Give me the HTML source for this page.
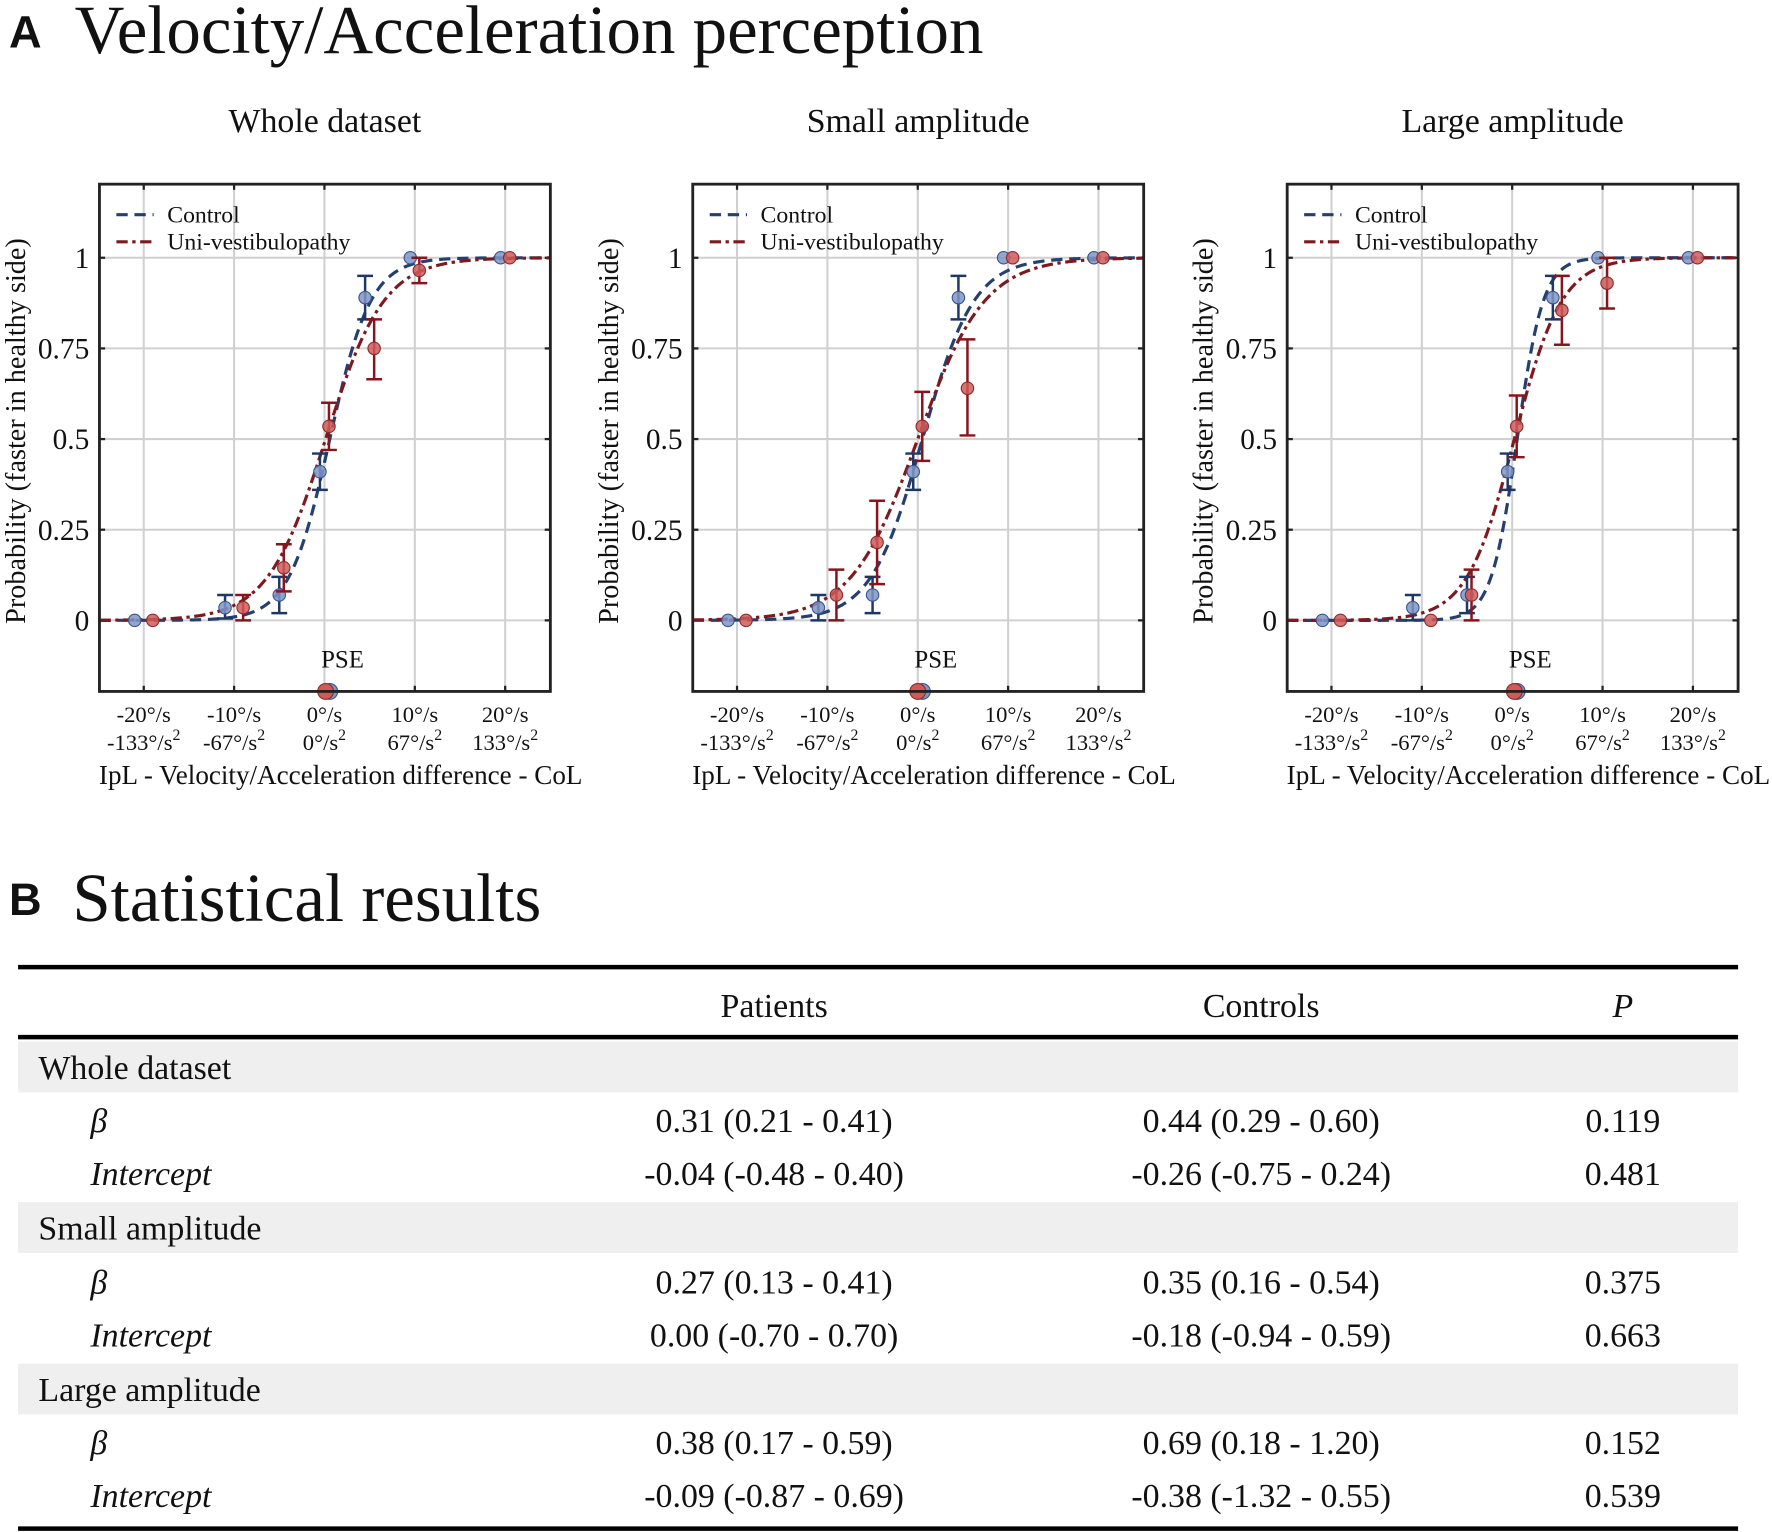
<!DOCTYPE html>
<html><head><meta charset="utf-8">
<style>
html,body{margin:0;padding:0;background:#fff;}
svg{display:block;}
text{font-family:"Liberation Serif",serif;fill:#111;}
</style></head>
<body>
<svg id="fig" width="1772" height="1532" viewBox="0 0 1568 1356" preserveAspectRatio="none" xmlns="http://www.w3.org/2000/svg">
<g id="panelA">
<text x="8" y="42" style="font-family:'Liberation Sans',sans-serif;font-weight:bold;font-size:40px">A</text>
<text x="66" y="47" style="font-size:61px">Velocity/Acceleration perception</text>
</g>
<g id="charts"></g>
<g id="panelB">
<text x="8" y="810" style="font-family:'Liberation Sans',sans-serif;font-weight:bold;font-size:40px">B</text>
<text x="64" y="815" style="font-size:61px">Statistical results</text>
</g>
<g id="table"></g>
</svg>
<script>
const panelTitles = ["Whole dataset","Small amplitude","Large amplitude"];
const yTicks = [0,0.25,0.5,0.75,1];
const yTickLabels = ["0","0.25","0.5","0.75","1"];
const xTicks = [-20,-10,0,10,20];
const xTickLine1 = ["-20°/s","-10°/s","0°/s","10°/s","20°/s"];
const xTickLine2 = ["-133°/s","-67°/s","0°/s","67°/s","133°/s"];
const ctrlBeta = [0.44,0.35,0.69];
const ctrlIntercept = [-0.26,-0.18,-0.38];
const uniBeta = [0.31,0.27,0.38];
const uniIntercept = [-0.04,0.00,-0.09];
const ctrlX = [-21,-11,-5,-0.5,4.5,9.5,19.5];
const uniX = [-19,-9,-4.5,0.5,5.5,10.5,20.5];
const ctrlY = [[0,0.035,0.07,0.41,0.89,1,1],[0,0.035,0.07,0.41,0.89,1,1],[0,0.035,0.07,0.41,0.89,1,1]];
const ctrlLo = [[null,0.005,0.02,0.36,0.83,null,null],[null,0,0.02,0.36,0.83,null,null],[null,0,0.02,0.36,0.83,null,null]];
const ctrlHi = [[null,0.07,0.12,0.46,0.95,null,null],[null,0.07,0.12,0.46,0.95,null,null],[null,0.07,0.12,0.46,0.95,null,null]];
const uniY = [[0,0.035,0.145,0.535,0.75,0.965,1],[0,0.07,0.215,0.535,0.64,1,1],[0,0,0.07,0.535,0.855,0.93,1]];
const uniLo = [[null,0,0.08,0.47,0.665,0.93,null],[null,0,0.1,0.44,0.51,null,null],[null,null,0,0.45,0.76,0.86,null]];
const uniHi = [[null,0.07,0.21,0.6,0.83,1,null],[null,0.14,0.33,0.63,0.775,null,null],[null,null,0.14,0.62,0.95,1,null]];

const NS="http://www.w3.org/2000/svg";
function mk(tag,attrs,parent,txt){const e=document.createElementNS(NS,tag);for(const k in attrs)e.setAttribute(k,attrs[k]);if(txt!==undefined)e.textContent=txt;parent.appendChild(e);return e;}
const charts=document.getElementById('charts');
const lefts=[88,613,1139], W=399, top0=163, H=449;
const xmin=-24.9,xmax=25, ymin=-0.196, ymax=1.203;
for(let p=0;p<3;p++){
  const L=lefts[p];
  const sx=v=>L+(v-xmin)/(xmax-xmin)*W;
  const sy=v=>top0+H-(v-ymin)/(ymax-ymin)*H;
  const g=mk('g',{},charts);
  
  
  const t=mk('text',{x:L+W/2,y:117,'text-anchor':'middle','font-size':30},g,panelTitles[p]);
  
  
  xTicks.forEach((v,i)=>{
    const l=mk('line',{x1:sx(v),x2:sx(v),y1:top0,y2:top0+H,stroke:'#d0d0d0','stroke-width':1.8},g);
    
    
    mk('line',{x1:sx(v),x2:sx(v),y1:top0,y2:top0+5,stroke:'#222','stroke-width':2},g);
    mk('line',{x1:sx(v),x2:sx(v),y1:top0+H,y2:top0+H-5,stroke:'#222','stroke-width':2},g);
    const a=mk('text',{x:sx(v),y:639,'text-anchor':'middle','font-size':20},g,xTickLine1[i]);
    
    
    const b=mk('text',{x:sx(v),y:664,'text-anchor':'middle','font-size':20},g);
    
    
    b.textContent=xTickLine2[i];
    mk('tspan',{dy:-9,'font-size':14},b,'2');
  });
  yTicks.forEach((v,i)=>{
    const l=mk('line',{x1:L,x2:L+W,y1:sy(v),y2:sy(v),stroke:'#d0d0d0','stroke-width':1.8},g);
    
    
    mk('line',{x1:L,x2:L+5,y1:sy(v),y2:sy(v),stroke:'#222','stroke-width':2},g);
    mk('line',{x1:L+W,x2:L+W-5,y1:sy(v),y2:sy(v),stroke:'#222','stroke-width':2},g);
    const a=mk('text',{x:L-9,y:sy(v)+9,'text-anchor':'end','font-size':26},g,yTickLabels[i]);
    
    
  });
  const yt=mk('text',{x:0,y:0,'text-anchor':'middle','font-size':25,transform:`translate(${L-66},${top0+H/2-6}) rotate(-90)`},g,'Probability (faster in healthy side)');
  
  
  const xt=mk('text',{x:L+W/2+14,y:694,'text-anchor':'middle','font-size':24},g,'IpL - Velocity/Acceleration difference - CoL');
  
  
  const pse=mk('text',{x:sx(2),y:591,'text-anchor':'middle','font-size':22},g,'PSE');
  
  
  function curve(b,a,col,dash,name){
    let d='';
    for(let k=0;k<=300;k++){const x=xmin+(xmax-xmin)*k/300;const y=1/(1+Math.exp(-(b*x+a)));d+=(k?'L':'M')+sx(x).toFixed(2)+' '+sy(y).toFixed(2);}
    const c=mk('path',{d:d,fill:'none',stroke:col,'stroke-width':2.8,'stroke-dasharray':dash},g);
    
    
  }
  curve(ctrlBeta[p],ctrlIntercept[p],'#253f6e','10 6','control-curve');
  curve(uniBeta[p],uniIntercept[p],'#7e1a1f','10 4 3 4','uni-curve');
  function pts(xs,ys,lo,hi,fill,st,ebc,name){
    xs.forEach((x,i)=>{
      if(lo[i]!==null){
        const e=mk('path',{d:`M${sx(x)} ${sy(lo[i])}V${sy(hi[i])}M${sx(x)-7} ${sy(lo[i])}h14M${sx(x)-7} ${sy(hi[i])}h14`,stroke:ebc,'stroke-width':2.2,fill:'none'},g);
        
        
      }
      const c=mk('circle',{cx:sx(x),cy:sy(ys[i]),r:5.5,fill:fill,stroke:st,'stroke-width':1,'fill-opacity':0.85},g);
      
      
    });
  }
  pts(ctrlX,ctrlY[p],ctrlLo[p],ctrlHi[p],'#7f95c6','#3a5590','#1f3765','control');
  pts(uniX,uniY[p],uniLo[p],uniHi[p],'#cf5a5a','#8e2b2b','#86161c','uni');
  const pc=mk('circle',{cx:sx(-ctrlIntercept[p]/ctrlBeta[p]),cy:top0+H,r:7,fill:'#7f95c6',stroke:'#3a5590'},g);
  
  
  const pu=mk('circle',{cx:sx(-uniIntercept[p]/uniBeta[p]),cy:top0+H,r:7,fill:'#cf5a5a',stroke:'#8e2b2b'},g);
  
  
  const fr=mk('rect',{x:L,y:top0,width:W,height:H,fill:'none',stroke:'#222','stroke-width':2.5},g);
  
  
  const lg=mk('g',{},g);
  
  
  mk('line',{x1:L+15,x2:L+48,y1:190,y2:190,stroke:'#253f6e','stroke-width':2.8,'stroke-dasharray':'10 6'},lg);
  mk('line',{x1:L+15,x2:L+48,y1:214,y2:214,stroke:'#7e1a1f','stroke-width':2.8,'stroke-dasharray':'10 4 3 4'},lg);
  const l1=mk('text',{x:L+60,y:197,'font-size':21},lg,'Control');
  
  
  const l2=mk('text',{x:L+60,y:221,'font-size':21},lg,'Uni-vestibulopathy');
  
  
}
const tb=document.getElementById('table');
const rows=[
 ['g','Whole dataset',955],['b','β',1002,'0.31 (0.21 - 0.41)','0.44 (0.29 - 0.60)','0.119'],['i','Intercept',1049,'-0.04 (-0.48 - 0.40)','-0.26 (-0.75 - 0.24)','0.481'],
 ['g','Small amplitude',1097],['b','β',1145,'0.27 (0.13 - 0.41)','0.35 (0.16 - 0.54)','0.375'],['i','Intercept',1192,'0.00 (-0.70 - 0.70)','-0.18 (-0.94 - 0.59)','0.663'],
 ['g','Large amplitude',1240],['b','β',1287,'0.38 (0.17 - 0.59)','0.69 (0.18 - 1.20)','0.152'],['i','Intercept',1334,'-0.09 (-0.87 - 0.69)','-0.38 (-1.32 - 0.55)','0.539']];
function tt(x,y,s,anchor,italic,name){const e=mk('text',{x:x,y:y,'text-anchor':anchor,'font-size':30,'font-style':italic?'italic':'normal'},tb,s);}
rows.forEach(r=>{
  if(r[0]==='g'){const b=mk('rect',{x:16,y:r[2]-33,width:1522,height:45,fill:'#efefef'},tb);tt(34,r[2],r[1],'start',false,'group-label');}
  else{tt(80,r[2],r[1],'start',true,'row-label');tt(685,r[2],r[3],'middle',false,'patients-cell');tt(1116,r[2],r[4],'middle',false,'controls-cell');tt(1436,r[2],r[5],'middle',false,'p-cell');}
});
tt(685,900,'Patients','middle',false,'header-patients');
tt(1116,900,'Controls','middle',false,'header-controls');
tt(1436,900,'P','middle',true,'header-p');
[[856,4],[918,4],[1353,4]].forEach(a=>{const l=mk('line',{x1:16,x2:1538,y1:a[0],y2:a[0],stroke:'#000','stroke-width':a[1]},tb);});
</script>
</body></html>
